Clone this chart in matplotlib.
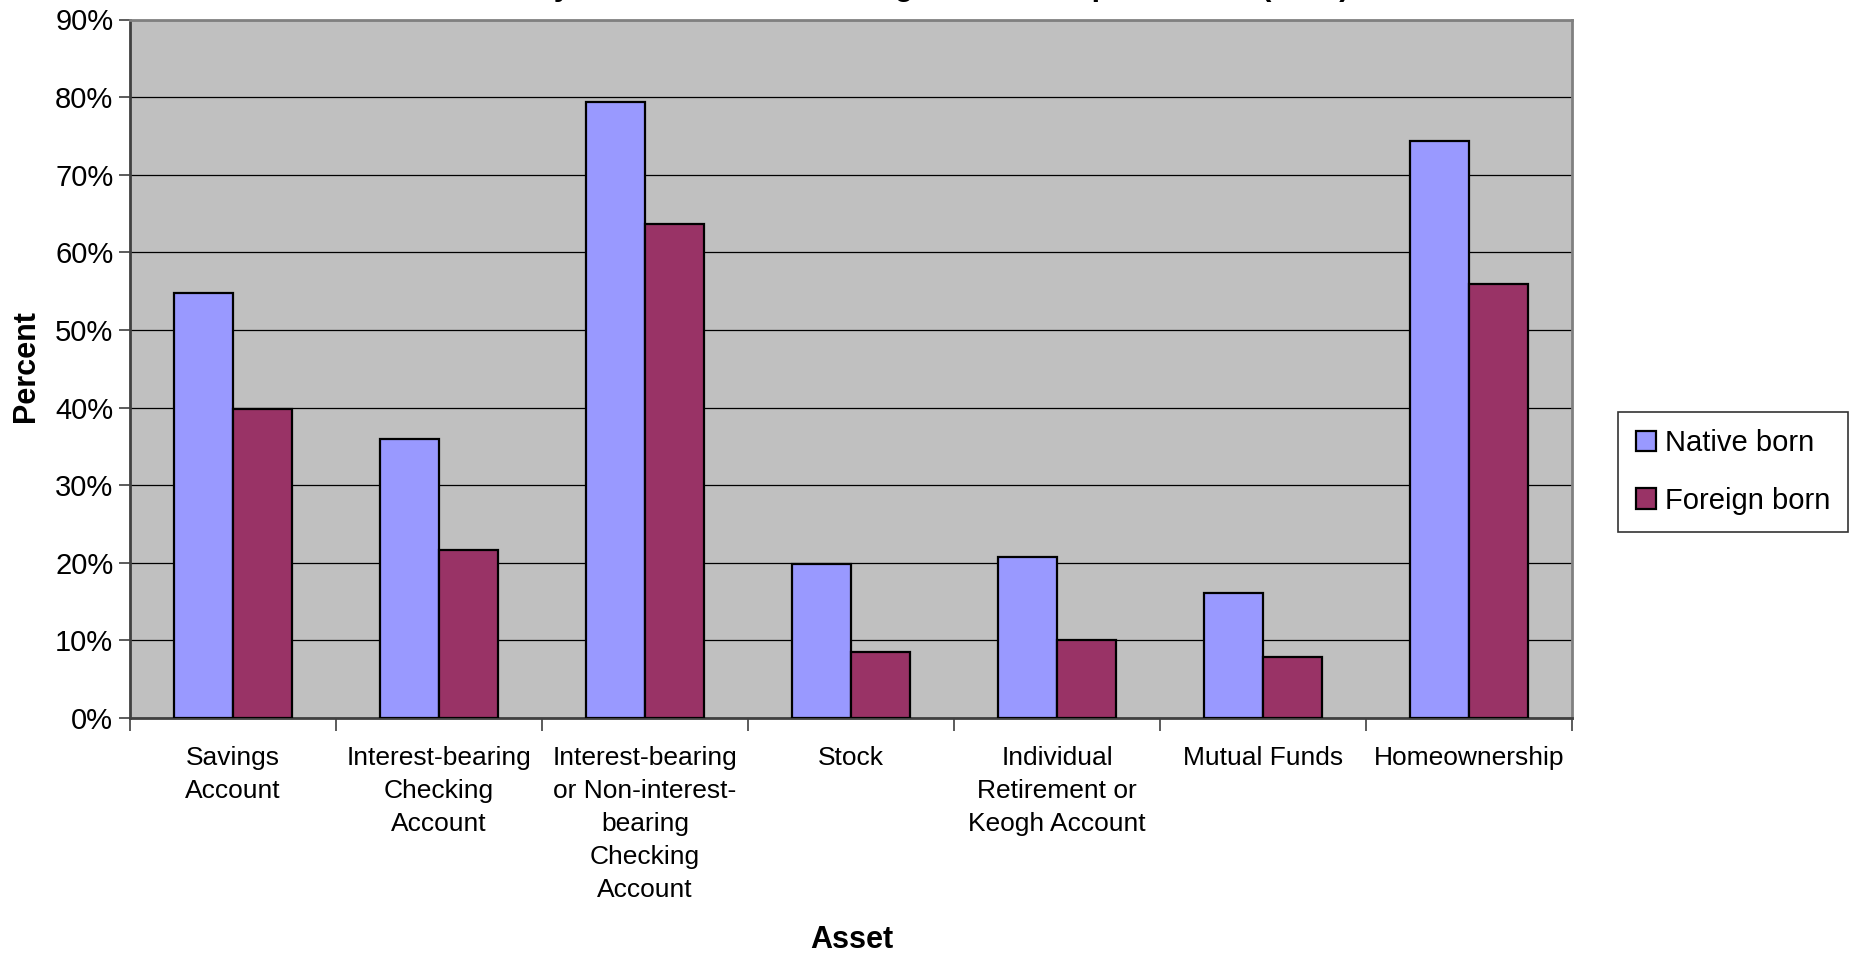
import matplotlib.pyplot as plt
import numpy as np

plt.rcParams['font.family'] = ['Liberation Sans', 'DejaVu Sans']

# Data
categories = [
    'Savings\nAccount',
    'Interest-bearing\nChecking\nAccount',
    'Interest-bearing\nor Non-interest-\nbearing\nChecking\nAccount',
    'Stock',
    'Individual\nRetirement or\nKeogh Account',
    'Mutual Funds',
    'Homeownership',
]
native_born = [54.7, 36.0, 79.4, 19.9, 20.7, 16.1, 74.3]
foreign_born = [39.8, 21.7, 63.7, 8.5, 10.0, 7.9, 55.9]
series_names = ['Native born', 'Foreign born']
y_ticks = list(range(0, 91, 10))

color_native = '#9999FF'
color_foreign = '#993366'

fig = plt.figure(figsize=(18.53, 9.56), dpi=100)
ax = fig.add_axes([130 / 1853, 1 - 718 / 956, 1442 / 1853, 698.5 / 956])
ax.set_facecolor('#C0C0C0')

x = np.arange(len(categories))
w = 0.286
ax.bar(x - w / 2, native_born, w, color=color_native, edgecolor='black',
       linewidth=1.6, label=series_names[0], zorder=3)
ax.bar(x + w / 2, foreign_born, w, color=color_foreign, edgecolor='black',
       linewidth=1.6, label=series_names[1], zorder=3)

ax.set_xlim(-0.5, len(categories) - 0.5)
ax.set_ylim(0, 90)
ax.set_yticks(y_ticks)
ax.set_yticklabels([f'{t}%' for t in y_ticks], fontsize=21)
ax.yaxis.grid(True, color='black', linewidth=0.9, zorder=1)
ax.set_axisbelow(True)

ax.set_xticks(x)
ax.set_xticklabels(categories, fontsize=19, linespacing=1.48, va='top')
ax.set_xticks(np.arange(len(categories) + 1) - 0.5, minor=True)
ax.tick_params(axis='x', which='major', length=0, pad=20)
ax.tick_params(axis='x', which='minor', length=9, width=1.2, color='#404040')
ax.tick_params(axis='y', length=8, width=1.2, color='#404040', pad=4)

for s in ax.spines.values():
    s.set_color('#808080')
    s.set_linewidth(2)
ax.spines['bottom'].set_color('#404040')
ax.spines['left'].set_color('#404040')

fig.text(26 / 1853, 1 - 366 / 956, 'Percent', rotation=90, fontsize=22,
         fontweight='bold', ha='center', va='center')
fig.text(852 / 1853, 1 - 940 / 956, 'Asset', fontsize=22,
         fontweight='bold', ha='center', va='center')

# title is clipped by the top edge in the reference
fig.text(851 / 1853, 1 + 5 / 956,
         'Assets Held by Native-born and Foreign-born Group Members (2000)',
         fontsize=22, fontweight='bold', ha='center', va='baseline')

leg = fig.legend(loc='center', bbox_to_anchor=(1733 / 1853, 1 - 472 / 956),
                 fontsize=21, frameon=True, fancybox=False, edgecolor='black',
                 handlelength=0.7, handleheight=0.7, handletextpad=0.3,
                 labelspacing=1.0, borderpad=0.6)
leg.get_frame().set_linewidth(1.2)

fig.savefig('out.png', dpi=100)
